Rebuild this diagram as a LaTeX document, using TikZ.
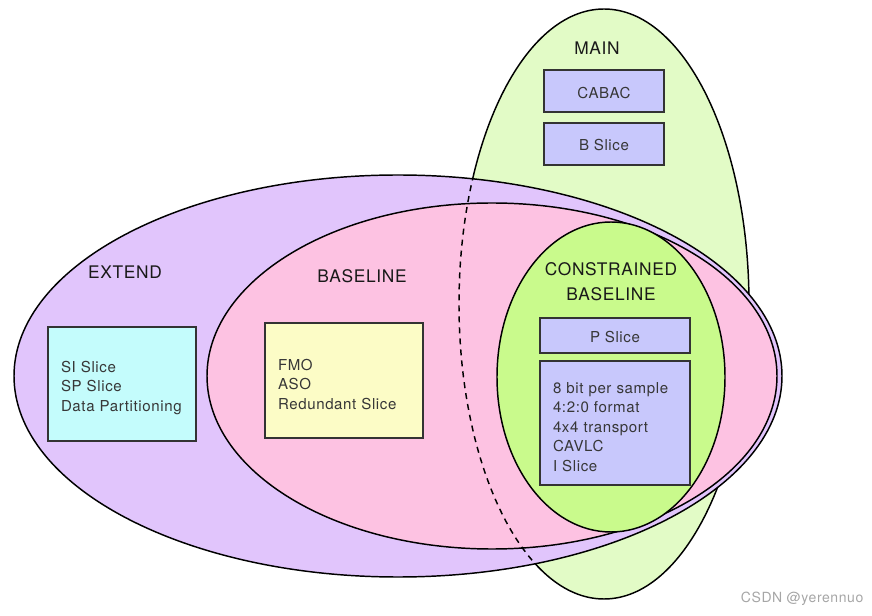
\documentclass[tikz,border=0pt]{standalone}
\usepackage{fontspec}
\setmainfont{TeX Gyre Heros}[LetterSpace=4]
\usetikzlibrary{positioning}

\definecolor{mainfill}{RGB}{226,251,198}
\definecolor{extendfill}{RGB}{225,197,252}
\definecolor{basefill}{RGB}{253,194,226}
\definecolor{cbfill}{RGB}{201,250,140}
\definecolor{toolfill}{RGB}{200,200,252}
\definecolor{cyanfill}{RGB}{196,252,252}
\definecolor{yellowfill}{RGB}{252,252,198}
\definecolor{inkgray}{RGB}{55,55,55}

\begin{document}
\begin{tikzpicture}[
		x=0.75pt, y=-0.75pt,
		profile/.style={draw=black, line width=1.1pt},
		title/.style={font=\fontsize{13}{18.75}\selectfont, text=black!90, align=center, inner sep=0pt},
		toolbox/.style={draw=black!80, line width=1.5pt, fill=toolfill, text=inkgray, font=\fontsize{11.3}{14.6}\selectfont, inner sep=0pt},
		tool/.style={toolbox, text height=11pt, text depth=0pt},
		toollist/.style={toolbox, align=left, inner xsep=9.75pt, text height=14pt}
	]

		\useasboundingbox (0,0) rectangle (872,616);

		% profile MAIN
		\draw [profile, fill=mainfill] (604,304) ellipse [x radius=145, y radius=295];

		% profile EXTEND
		\draw [profile, fill=extendfill] (398,376) ellipse [x radius=384, y radius=201];

		% profile BASELINE
		\draw [profile, fill=basefill] (492,376) ellipse [x radius=285, y radius=173];

		% profile CONSTRAINED BASELINE
		\draw [profile, fill=cbfill] (611,377) ellipse [x radius=114, y radius=155];

		% MAIN behind EXTEND, dashed
		\begin{scope}
			\clip (398,376) ellipse [x radius=384, y radius=201];
			\clip (0,0) rectangle (580,616);
			\draw [black, line width=1.1pt, dash pattern=on 4.5pt off 3.75pt] (604,304) ellipse [x radius=145, y radius=295];
		\end{scope}

		% titles
		\node [title] (main) at (597,48) {MAIN};
		\node [title] (extend) at (125,272) {EXTEND};
		\node [title] (baseline) at (362,276) {BASELINE};
		\node [title] (constrained) at (611,282) {CONSTRAINED\\BASELINE};

		% tools
		\node [tool, minimum width=90pt, minimum height=31.5pt] (cabac) at (604,91) {CABAC};
		\node [tool, minimum width=90pt, minimum height=31.5pt, below=6.5pt of cabac] (bslice) {B Slice};

		\node [tool, minimum width=112.5pt, minimum height=26.25pt] (pslice) at (615,335.5) {P Slice};
		\node [toollist, text width=93pt, minimum height=93pt, below=4.5pt of pslice] (common) {8 bit per sample\\4:2:0 format\\4x4 transport\\CAVLC\\I Slice};

		\node [toollist, fill=cyanfill, text width=91.5pt, minimum height=85.5pt] (extra) at (122,384) {SI Slice\\SP Slice\\Data Partitioning};
		\node [toollist, fill=yellowfill, text width=99pt, minimum height=86.25pt] (robust) at (344,380.5) {FMO\\ASO\\Redundant Slice};

		% mark
		\node [anchor=east, text=black!35, font=\fontsize{10.5}{12}\selectfont] (mark) at (868,599) {CSDN @yerennuo};

	\end{tikzpicture}
\end{document}
